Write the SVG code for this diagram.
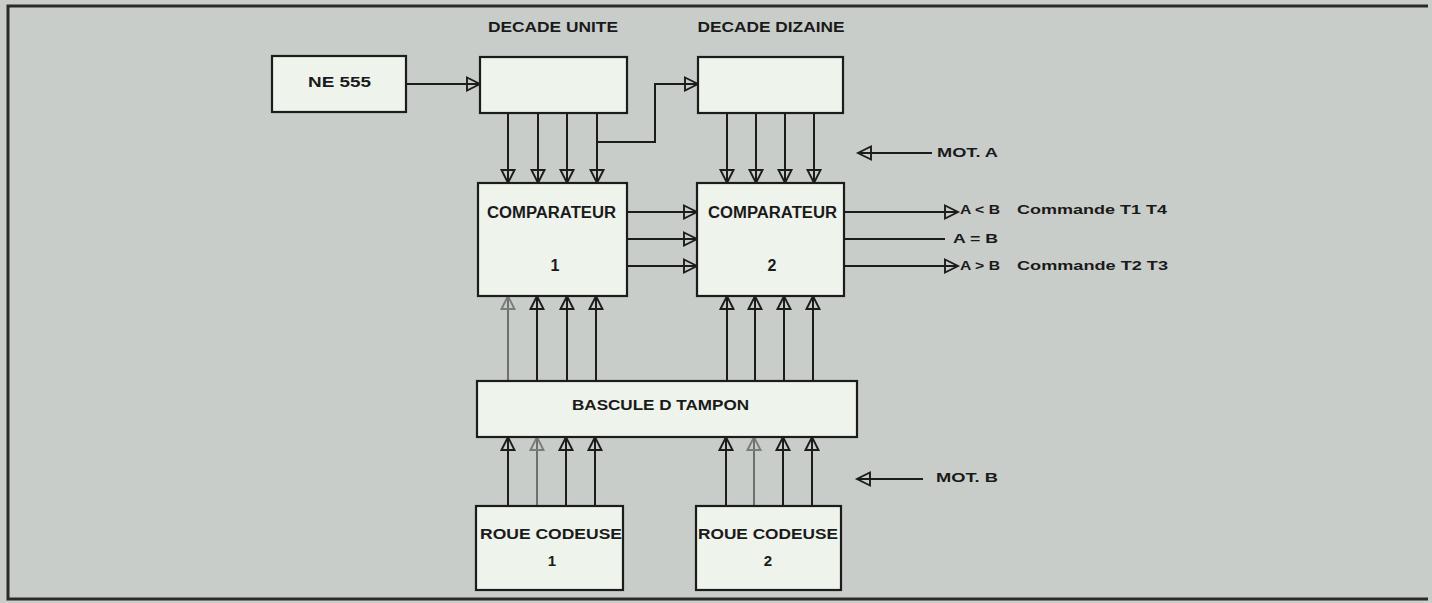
<svg xmlns="http://www.w3.org/2000/svg" width="1432" height="603" viewBox="0 0 1432 603">
<defs>
<style>
.bg{fill:#c9cdca}
.box{fill:#eef3ec;stroke:#1c1c1c;stroke-width:2.2}
.t{font-family:"Liberation Sans",Arial,sans-serif;font-weight:bold;fill:#1a1a1a;dominant-baseline:central;text-anchor:middle}
.s{font-family:"Liberation Sans",Arial,sans-serif;font-weight:bold;fill:#1a1a1a;dominant-baseline:central}
.ln{fill:none;stroke:#1c1c1c;stroke-width:2;marker-end:url(#arr)}
.pl{fill:none;stroke:#1c1c1c;stroke-width:2}
.lg{fill:none;stroke:#6e706e;stroke-width:2;marker-end:url(#arrg)}
.frame{fill:none;stroke:#2a2a2a;stroke-width:3}
</style>
<marker id="arr" markerUnits="userSpaceOnUse" markerWidth="16" markerHeight="16" refX="14" refY="7" orient="auto" overflow="visible">
<path d="M1,0.5 L14,7 L1,13.5 Z" fill="none" stroke="#1c1c1c" stroke-width="1.9" stroke-linejoin="miter"/>
</marker>
<marker id="arrg" markerUnits="userSpaceOnUse" markerWidth="16" markerHeight="16" refX="14" refY="7" orient="auto" overflow="visible">
<path d="M1,0.5 L14,7 L1,13.5 Z" fill="none" stroke="#7a7c7a" stroke-width="1.9"/>
</marker>
</defs>
<rect class="bg" x="0" y="0" width="1432" height="603"/>
<path class="frame" d="M1428,6 H8 V599 H1428"/>

<g id="connectors">
<line class="ln" x1="406" y1="84" x2="480" y2="84"/>
<line class="ln" x1="508" y1="113" x2="508" y2="183"/>
<line class="ln" x1="538" y1="113" x2="538" y2="183"/>
<line class="ln" x1="567" y1="113" x2="567" y2="183"/>
<line class="ln" x1="597" y1="113" x2="597" y2="183"/>
<path class="ln" d="M597,142 H655 V84 H698"/>
<line class="ln" x1="727" y1="113" x2="727" y2="183"/>
<line class="ln" x1="756" y1="113" x2="756" y2="183"/>
<line class="ln" x1="785" y1="113" x2="785" y2="183"/>
<line class="ln" x1="814" y1="113" x2="814" y2="183"/>
<line class="ln" x1="627" y1="212" x2="697" y2="212"/>
<line class="ln" x1="627" y1="239" x2="697" y2="239"/>
<line class="ln" x1="627" y1="266" x2="697" y2="266"/>
<line class="ln" x1="844" y1="212" x2="958" y2="212"/>
<line class="pl" x1="844" y1="239" x2="945" y2="239"/>
<line class="ln" x1="844" y1="266" x2="958" y2="266"/>
<line class="ln" x1="932" y1="153" x2="858" y2="153"/>
<line class="ln" x1="923" y1="479" x2="857" y2="479"/>
<line class="lg" x1="508" y1="381" x2="508" y2="296"/>
<line class="ln" x1="537" y1="381" x2="537" y2="296"/>
<line class="ln" x1="567" y1="381" x2="567" y2="296"/>
<line class="ln" x1="596" y1="381" x2="596" y2="296"/>
<line class="ln" x1="727" y1="381" x2="727" y2="296"/>
<line class="ln" x1="755" y1="381" x2="755" y2="296"/>
<line class="ln" x1="784" y1="381" x2="784" y2="296"/>
<line class="ln" x1="813" y1="381" x2="813" y2="296"/>
<line class="ln" x1="508" y1="506" x2="508" y2="437"/>
<line class="lg" x1="537" y1="506" x2="537" y2="437"/>
<line class="ln" x1="566" y1="506" x2="566" y2="437"/>
<line class="ln" x1="595" y1="506" x2="595" y2="437"/>
<line class="ln" x1="726" y1="506" x2="726" y2="437"/>
<line class="lg" x1="754" y1="506" x2="754" y2="437"/>
<line class="ln" x1="783" y1="506" x2="783" y2="437"/>
<line class="ln" x1="812" y1="506" x2="812" y2="437"/>
</g>

<g id="ne555">
<rect class="box" x="272" y="56" width="134" height="56"/>
<text class="t" x="339.5" y="81" font-size="15" textLength="63" lengthAdjust="spacingAndGlyphs">NE 555</text>
</g>
<g id="decade-unite">
<text class="t" x="553" y="27" font-size="14" textLength="130" lengthAdjust="spacingAndGlyphs">DECADE UNITE</text>
<rect class="box" x="480" y="57" width="147" height="56"/>
</g>
<g id="decade-dizaine">
<text class="t" x="771" y="27" font-size="14" textLength="147" lengthAdjust="spacingAndGlyphs">DECADE DIZAINE</text>
<rect class="box" x="698" y="57" width="145" height="56"/>
</g>
<g id="comparateur1">
<rect class="box" x="478" y="183" width="149" height="113"/>
<text class="t" x="551.5" y="212" font-size="16" textLength="129" lengthAdjust="spacingAndGlyphs">COMPARATEUR</text>
<text class="t" x="555" y="265" font-size="16">1</text>
</g>
<g id="comparateur2">
<rect class="box" x="697" y="183" width="147" height="113"/>
<text class="t" x="772.5" y="212" font-size="16" textLength="129" lengthAdjust="spacingAndGlyphs">COMPARATEUR</text>
<text class="t" x="772" y="265" font-size="16">2</text>
</g>
<g id="outputs">
<text class="s" x="960" y="209" font-size="13" textLength="40" lengthAdjust="spacingAndGlyphs">A &lt; B</text>
<text class="s" x="1017" y="209" font-size="13" textLength="150" lengthAdjust="spacingAndGlyphs">Commande T1 T4</text>
<text class="s" x="953" y="238" font-size="13" textLength="45" lengthAdjust="spacingAndGlyphs">A = B</text>
<text class="s" x="960" y="265" font-size="13" textLength="40" lengthAdjust="spacingAndGlyphs">A &gt; B</text>
<text class="s" x="1017" y="265" font-size="13" textLength="151" lengthAdjust="spacingAndGlyphs">Commande T2 T3</text>
</g>
<g id="mot-a">
<text class="s" x="937" y="152" font-size="13" textLength="61" lengthAdjust="spacingAndGlyphs">MOT. A</text>
</g>
<g id="bascule">
<rect class="box" x="477" y="381" width="380" height="56"/>
<text class="t" x="660.5" y="404" font-size="15" textLength="177" lengthAdjust="spacingAndGlyphs">BASCULE D TAMPON</text>
</g>
<g id="mot-b">
<text class="s" x="936" y="477" font-size="13" textLength="62" lengthAdjust="spacingAndGlyphs">MOT. B</text>
</g>
<g id="roue1">
<rect class="box" x="476" y="506" width="147" height="84"/>
<text class="t" x="551" y="533" font-size="15" textLength="142" lengthAdjust="spacingAndGlyphs">ROUE CODEUSE</text>
<text class="t" x="552" y="560" font-size="15">1</text>
</g>
<g id="roue2">
<rect class="box" x="696" y="506" width="145" height="84"/>
<text class="t" x="768" y="533" font-size="15" textLength="140" lengthAdjust="spacingAndGlyphs">ROUE CODEUSE</text>
<text class="t" x="768" y="560" font-size="15">2</text>
</g>
</svg>
